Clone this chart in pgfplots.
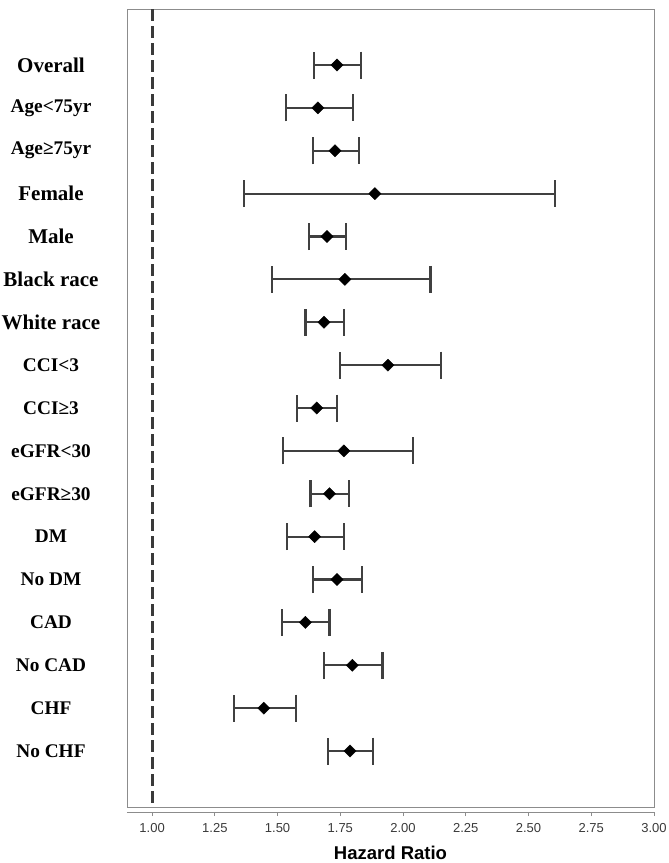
\documentclass[border=0pt]{standalone}
\usepackage{pgfplots}
\pgfplotsset{compat=1.18}
\usepackage{pgfplotstable}
\usepackage{fontspec}
\setmainfont{Liberation Serif}
\newfontfamily\sansf{Liberation Sans}
\definecolor{bargray}{HTML}{404040}
\definecolor{framegray}{HTML}{8C8C8C}
\definecolor{tickgray}{HTML}{3A3A3A}
\pgfplotstableread{
y hr lo hi
1 1.737 1.645 1.833
2 1.661 1.534 1.801
3 1.729 1.641 1.825
4 1.888 1.367 2.606
5 1.697 1.625 1.773
6 1.768 1.479 2.109
7 1.685 1.611 1.764
8 1.940 1.749 2.150
9 1.656 1.579 1.736
10 1.764 1.523 2.040
11 1.707 1.631 1.785
12 1.648 1.539 1.765
13 1.737 1.640 1.838
14 1.611 1.518 1.707
15 1.798 1.684 1.918
16 1.445 1.327 1.572
17 1.789 1.700 1.880
}\hrdata
\newcommand{\biglab}{\fontsize{21}{21}\selectfont\bfseries}
\newcommand{\smlab}{\fontsize{19.3}{19.3}\selectfont\bfseries}
\begin{document}
\begin{tikzpicture}[x=1pt,y=1pt]
\useasboundingbox (0,0) rectangle (669,863);
\begin{axis}[
  at={(127pt,56pt)}, anchor=south west,
  scale only axis, width=527pt, height=798pt,
  xmin=0.9, xmax=3.0,
  ymin=-0.306, ymax=18.306, y dir=reverse,
  axis x line*=bottom, axis y line*=left,
  axis x line shift=5pt,
  axis line style={framegray, line width=0.9pt},
  clip=false,
  xtick={1,1.25,1.5,1.75,2,2.25,2.5,2.75,3},
  xticklabels={1.00,1.25,1.50,1.75,2.00,2.25,2.50,2.75,3.00},
  xticklabel style={font=\sansf\fontsize{13}{13}\selectfont, text=tickgray, yshift=-4pt},
  x tick style={framegray, line width=0.9pt},
  tick align=outside, major tick length=4pt,
  ytick={1,...,17},
  yticklabels={{\biglab Overall},{\smlab Age<75yr},{\smlab Age≥75yr},{\biglab Female},{\biglab Male},{\biglab Black race},{\biglab White race},{\smlab CCI<3},{\smlab CCI≥3},{\smlab eGFR<30},{\smlab eGFR≥30},{\smlab DM},{\smlab No DM},{\smlab CAD},{\smlab No CAD},{\smlab CHF},{\smlab No CHF}},
  yticklabel style={anchor=center, xshift=-72pt},
  y tick style={draw=none},
  xlabel={Hazard Ratio},
  xlabel style={font=\sansf\bfseries\fontsize{18.5}{18.5}\selectfont, yshift=-6pt},
]
\draw[framegray, line width=0.9pt] (rel axis cs:0,0) rectangle (rel axis cs:1,1);
\addplot[color=tickgray, line width=2.9pt, dash pattern=on 12pt off 5pt] coordinates {(1,-0.306) (1,18.306)};
\addplot[
  only marks, mark=square*, mark size=4.3pt,
  mark options={rotate=45, fill=black, draw=black},
  error bars/.cd, x dir=both, x explicit,
  error mark=|,
  error bar style={bargray, line width=2.2pt},
  error mark options={bargray, line width=2.2pt, mark size=13.5pt},
] table[x=hr, y=y,
  x error plus expr=\thisrow{hi}-\thisrow{hr},
  x error minus expr=\thisrow{hr}-\thisrow{lo}] {\hrdata};
\end{axis}
\end{tikzpicture}
\end{document}
